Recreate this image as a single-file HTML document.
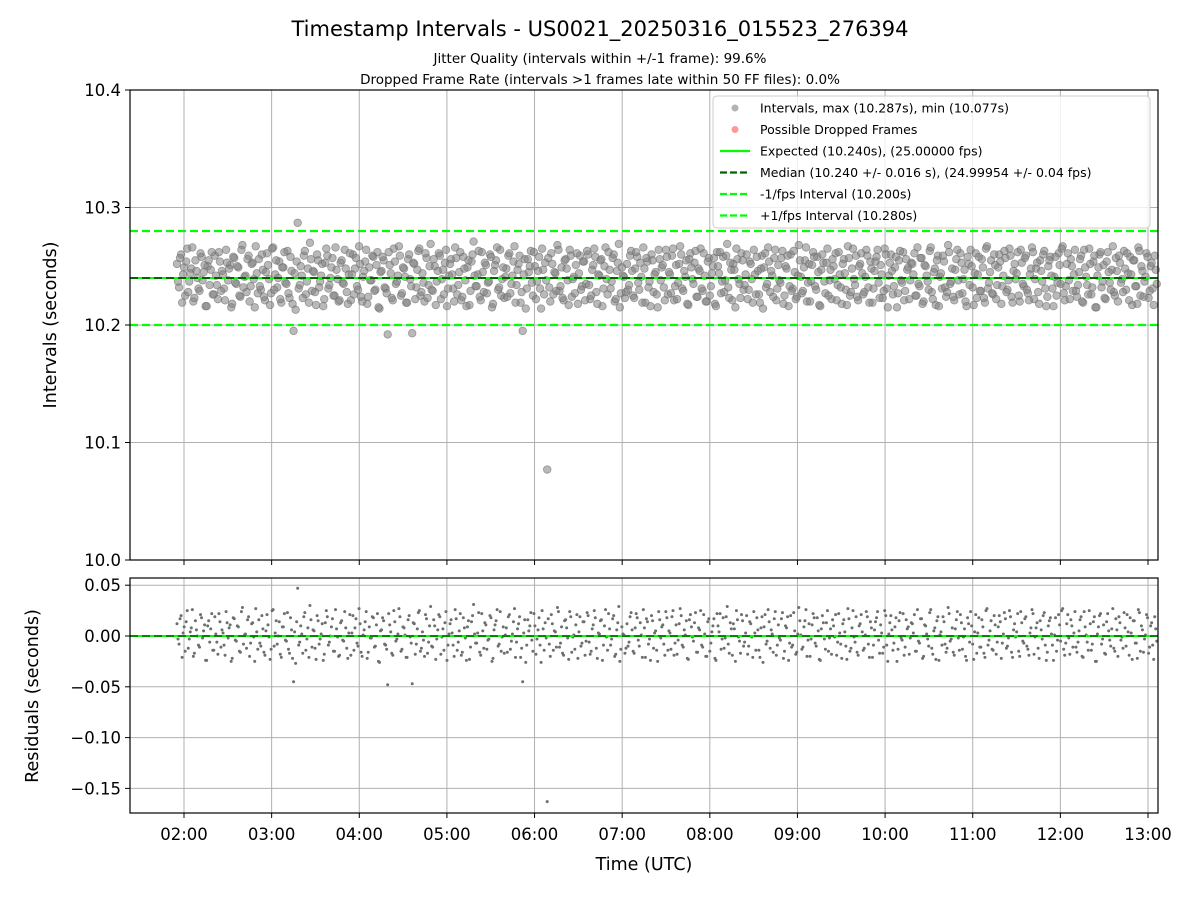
<!DOCTYPE html>
<html><head><meta charset="utf-8"><style>
body{margin:0;background:#fff;font-family:"Liberation Sans","DejaVu Sans",sans-serif}
svg text{font-family:"DejaVu Sans","Liberation Sans",sans-serif;fill:#000}
</style></head><body>
<svg id="c" width="1200" height="900" viewBox="0 0 1200 900"></svg>
<script>
const startHour = 1.92;
const endHour = 13.1;
const expected = 10.240;
const lowerLimit = 10.200;
const upperLimit = 10.280;
const xTickLabels = ["02:00","03:00","04:00","05:00","06:00","07:00","08:00","09:00","10:00","11:00","12:00","13:00"];
const xTickHours = [2,3,4,5,6,7,8,9,10,11,12,13];
const yTopTicks = [10.0,10.1,10.2,10.3,10.4];
const yBotTicks = [0.05,0.00,-0.05,-0.10,-0.15];
const residualsMs = [
12,-8,20,3,-15,25,-3,8,-20,15,0,-11,18,5,-24,10,-6,22,-14,2,
-18,14,6,-9,24,-2,11,-22,17,-5,9,-16,28,1,-12,19,-7,13,-25,4,
16,-10,7,-19,21,-1,-13,26,3,-8,14,-21,9,-4,23,-17,6,-45,-27,47,
-6,2,19,-14,8,30,-11,5,-23,15,-3,12,-18,25,-9,0,17,-15,7,-20,
13,-4,24,-12,3,-19,20,8,-7,27,-16,1,14,-22,9,-2,18,-10,22,-26,
6,15,-9,-48,11,-17,25,-5,2,19,-13,8,-21,16,-1,-47,12,-8,23,-15,
4,-20,17,-6,29,-11,10,-3,21,-18,7,13,-24,2,16,-9,26,-14,5,-19,
18,-2,9,-23,14,31,-7,3,-16,22,-12,11,-4,20,-25,6,15,-10,24,-1,
-17,8,19,-13,2,27,-6,12,-21,-45,16,-9,5,23,-15,10,-3,18,-26,7,
13,-163,-8,21,-14,4,28,-11,9,-19,16,-2,24,-16,1,11,-22,19,-7,14,
-5,20,-18,7,25,-12,3,15,-24,10,-1,22,-9,17,-20,6,29,-13,2,-17,
12,-6,23,-15,8,18,-10,1,26,-21,14,-3,20,-12,5,-25,16,9,-8,24,
-14,3,19,-19,11,-4,27,-9,6,15,-23,21,-1,13,-16,8,25,-11,2,-20,
17,-7,10,-22,22,4,-13,18,-2,29,-17,7,12,-25,16,-5,21,-10,3,-18,
14,-1,24,-14,6,-21,19,9,-8,26,-12,2,17,-19,11,-4,23,-15,8,-24,
20,-9,5,-16,28,1,-11,15,-20,12,-3,22,-7,18,-23,7,13,-13,25,-2,
-18,10,21,-6,3,-22,16,-10,27,-15,8,-1,19,-19,12,4,-12,24,-8,14,
-21,6,18,-4,11,-17,25,-9,2,20,-14,9,-25,15,-2,22,-11,7,-18,13,
3,-15,26,-7,17,-20,10,-3,23,-12,5,-23,19,1,-9,14,-16,28,-5,8,
-19,16,-2,21,-13,7,-24,12,24,-8,4,-17,18,-11,9,-21,27,-4,15,-14,
11,-6,20,-22,2,17,-10,25,-16,6,-1,22,-20,13,-7,19,-13,3,26,-18,
8,-12,15,-3,23,-24,10,18,-9,1,-15,21,-5,27,-19,12,-2,16,-11,24,
-16,5,19,-21,9,-6,25,-14,14,-25,2,20,-8,11,-18,22,-4,7,-12,17,
-20,13,-1,23,-10,4,18,-23,15,-7,26,-15,6,-3,21,-17,10,-9,19,-5];
const residualsMsB = [
-3,17,-21,9,14,-12,4,26,-17,6,-9,21,-2,11,-24,15,7,-14,19,-6,
22,-11,3,-19,13,8,-25,18,-4,10,-15,24,-8,2,16,-20,12,-1,27,-13,
-7,20,-16,5,11,-23,25,-10,15,0,-18,9,22,-5,-13,18,-22,4,14,-9,
10,-17,23,-3,-21,16,6,-12,20,-8,2,-24,13,19,-6,9,-15,26,-1,-19,
15,-5,8,-22,21,3,-14,17,-10,12,-20,6,24,-16,-2,19,-11,11,-25,5,
18,-8,-13,22,4,-19,14,-3,27,-15,9,1,-21,20,-7,13,-18,7,25,-12,
-4,21,-17,10,-10,16,-23,6,19,-1,-14,24,-9,12,3,-20,17,-6,22,-16,
8,-24,15,-11,20,2,-7,23,-19,5,13,-13,-3,18,-22,11,26,-8,-15,9,
1,-16,21,-5,14,-21,7,19,-12,3,-26,16,10,-4,22,-18,6,-9,25,-14,
-2,17,-20,12,5,-11,24,-7,-17,15,8,-23,19,-1,-13,21,4,-10,14,-19,
23,-6,-15,11,18,-22,2,16,-9,26,-14,7,-3,20,-18,13,-25,9,1,-12,
-10,19,6,-17,22,-4,13,-21,8,17,-8,-24,15,3,-14,24,-2,11,-19,18,
5,-13,25,-7,-18,12,20,-11,1,-22,16,9,-5,23,-16,6,-9,21,-20,14,
-15,4,17,-24,10,22,-3,-12,19,-8,13,-19,7,25,-1,-17,15,-6,20,-10,
12,-21,3,18,-14,8,-26,21,-5,14,6,-16,24,-9,-2,17,-22,10,19,-7,
-11,23,-18,2,15,-13,9,26,-4,-20,11,18,-10,5,-24,20,-3,13,-15,7,
16,-1,-19,22,-8,12,4,-23,17,-12,25,-6,-16,10,21,-14,1,19,-21,8,
-9,14,24,-17,3,-11,20,-25,13,6,-7,18,-13,23,-4,-19,16,9,-2,12,
21,-15,-5,17,-22,11,2,-10,26,-18,8,15,-24,4,19,-8,-12,22,-3,-16,
7,24,-14,13,-1,-20,18,-6,10,-23,21,3,-11,16,-17,25,-9,5,-13,20,
-18,9,14,-7,23,-12,-2,19,-21,12,4,-15,24,-5,17,-10,-19,8,22,-1,
13,-22,6,20,-9,-16,15,2,-24,18,-4,11,25,-13,-7,21,-18,10,3,-11,
-6,16,-20,24,1,-14,12,-8,19,-25,9,22,-3,-17,14,5,-10,27,-15,6,
19,-4,-12,8,21,-19,3,15,-7,-22,23,10,-16,1,18,-11,13,-23,7,-2];

const svg=document.getElementById('c');const NS='http://www.w3.org/2000/svg';
function el(t,a,p){const e=document.createElementNS(NS,t);for(const k in a)e.setAttribute(k,a[k]);(p||svg).appendChild(e);return e;}
const L=130,R=1158,T1=90,B1=560,T2=578,B2=813;
const x=h=>184+(h-2)*87.636;
const y1=v=>560-(v-10.0)*1175;
const y2=v=>636-v*1016;
const g=el('g',{});

xTickHours.forEach(h=>{el('line',{x1:x(h),x2:x(h),y1:T1,y2:B1,stroke:'#b0b0b0','stroke-width':1},g);el('line',{x1:x(h),x2:x(h),y1:T2,y2:B2,stroke:'#b0b0b0','stroke-width':1},g);});
yTopTicks.forEach(v=>el('line',{x1:L,x2:R,y1:y1(v),y2:y1(v),stroke:'#b0b0b0'},g));
yBotTicks.forEach(v=>el('line',{x1:L,x2:R,y1:y2(v),y2:y2(v),stroke:'#b0b0b0'},g));
const pt=el('g',{});
const pb=el('g',{});
function plot(arr,offset){const n=arr.length;const step=(endHour-startHour)/(n-1);
 arr.forEach((r,i)=>{const h=startHour+step*(i+offset);if(h>endHour)return;const v=r/1000;
  el('circle',{cx:x(h),cy:y1(expected+v),r:3.8,fill:'#808080','fill-opacity':0.55,stroke:'#6a6a6a','stroke-opacity':0.6,'stroke-width':0.8},pt);
  el('circle',{cx:x(h),cy:y2(v),r:1.5,fill:'#6e6e6e'},pb);});}
plot(residualsMs,0);
plot(residualsMsB,0.5);
function hl(yv,col,dash,w,name){const l=el('line',{x1:L,x2:R,y1:yv,y2:yv,stroke:col,'stroke-width':w,'stroke-dasharray':dash||'none'});}
hl(y1(expected),'#00ff00','',2,'expected-line');
hl(y1(expected),'#006400','8,4',2,'median-line');
hl(y1(lowerLimit),'#00ff00','8,4',2.2,'minus-fps-line');
hl(y1(upperLimit),'#00ff00','8,4',2.2,'plus-fps-line');
hl(y2(0),'#00ff00','',2,'residual-zero-line');
hl(y2(0),'#006400','8,4',1.5,'residual-median-line');
el('rect',{x:L,y:T1,width:R-L,height:B1-T1,fill:'none',stroke:'#000','stroke-width':1.2});
el('rect',{x:L,y:T2,width:R-L,height:B2-T2,fill:'none',stroke:'#000','stroke-width':1.2});
yTopTicks.forEach(v=>{el('line',{x1:L-5,x2:L,y1:y1(v),y2:y1(v),stroke:'#000'});const t=el('text',{x:L-9,y:y1(v)+6,'text-anchor':'end','font-size':16.5});t.textContent=v.toFixed(1);});
yBotTicks.forEach(v=>{el('line',{x1:L-5,x2:L,y1:y2(v),y2:y2(v),stroke:'#000'});const t=el('text',{x:L-9,y:y2(v)+6,'text-anchor':'end','font-size':16.5});t.textContent=(v<0?'\u2212':'')+Math.abs(v).toFixed(2);});
xTickHours.forEach((h,i)=>{el('line',{x1:x(h),x2:x(h),y1:B1,y2:B1+5,stroke:'#000'});el('line',{x1:x(h),x2:x(h),y1:B2,y2:B2+5,stroke:'#000'});const t=el('text',{x:x(h),y:840,'text-anchor':'middle','font-size':16.5});t.textContent=xTickLabels[i];});
function txt(s,a,name){const t=el('text',a);t.textContent=s;return t;}
txt('Timestamp Intervals - US0021_20250316_015523_276394',{x:600,y:36,'text-anchor':'middle','font-size':21},'chart-title');
txt('Jitter Quality (intervals within +/-1 frame): 99.6%',{x:600,y:63,'text-anchor':'middle','font-size':13.5},'jitter-subtitle');
txt('Dropped Frame Rate (intervals >1 frames late within 50 FF files): 0.0%',{x:600,y:84,'text-anchor':'middle','font-size':13.5},'dropped-subtitle');
txt('Time (UTC)',{x:644,y:870,'text-anchor':'middle','font-size':17.5},'x-axis-title');
txt('Intervals (seconds)',{x:56,y:325,'text-anchor':'middle','font-size':17.5,transform:'rotate(-90 56 325)'},'y-axis-title');
txt('Residuals (seconds)',{x:38,y:696,'text-anchor':'middle','font-size':17.5,transform:'rotate(-90 38 696)'},'residuals-axis-title');
const lg=el('g',{});
el('rect',{x:713,y:96,width:437,height:132,rx:4,fill:'#fff','fill-opacity':0.8,stroke:'#ccc'},lg);
const items=[['Intervals, max (10.287s), min (10.077s)','dot','#808080'],['Possible Dropped Frames','dot','#ff5555'],['Expected (10.240s), (25.00000 fps)','solid','#00ff00'],['Median (10.240 +/- 0.016 s), (24.99954 +/- 0.04 fps)','dash','#006400'],['-1/fps Interval (10.200s)','dash','#00ff00'],['+1/fps Interval (10.280s)','dash','#00ff00']];
items.forEach((it,i)=>{const yy=108+i*21.5;
 if(it[1]=='dot')el('circle',{cx:735,cy:yy,r:3.5,fill:it[2],'fill-opacity':0.6},lg);
 else el('line',{x1:720,x2:750,y1:yy,y2:yy,stroke:it[2],'stroke-width':2.2,'stroke-dasharray':it[1]=='dash'?'7,3':'none'},lg);
 const t=el('text',{x:760,y:yy+4.5,'font-size':12.5},lg);t.textContent=it[0];});
</script>
</body></html>
